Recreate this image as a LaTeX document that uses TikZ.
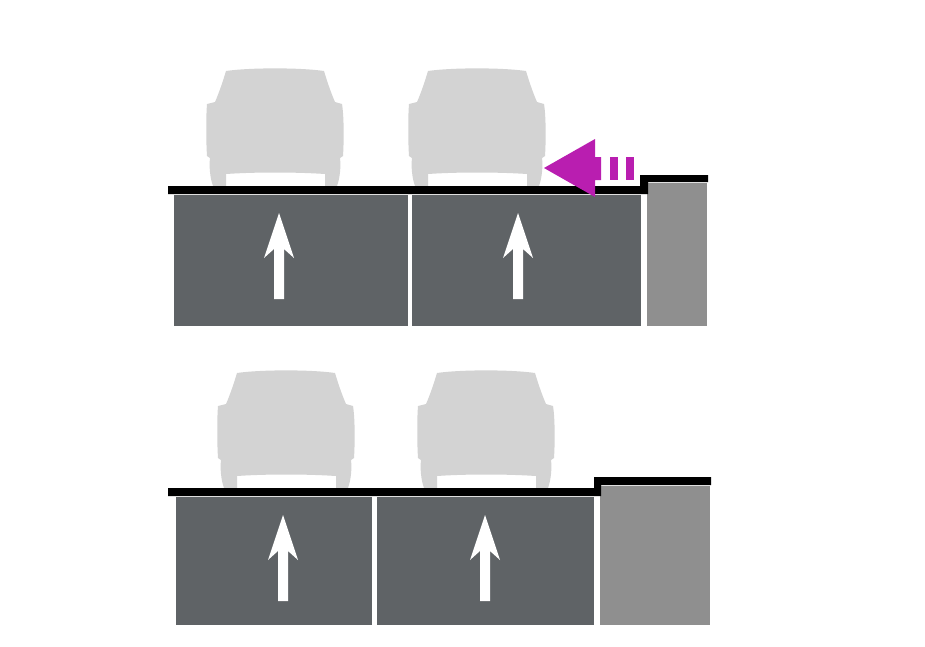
\documentclass[tikz,border=0pt]{standalone}
\tikzset{
  panel/.style={fill=#1,draw=none},
  caricon/.pic={
    \fill[carc] (-49,-115) .. controls (-25,-118.5) and (25,-118.5) .. (49,-115)
      .. controls (52,-105) and (56,-93) .. (60,-84)
      -- (67,-82) .. controls (69,-70) and (69,-45) .. (68,-30)
      -- (65,-28) .. controls (66,-20) and (65,-8) .. (62,0) -- (50,0) -- (50,-12)
      .. controls (20,-14) and (-20,-14) .. (-49,-12) -- (-49,0) -- (-62,0)
      .. controls (-65,-8) and (-66,-20) .. (-65,-28) -- (-68,-30)
      .. controls (-69,-45) and (-69,-70) .. (-68,-82)
      -- (-60,-84) .. controls (-56,-93) and (-52,-105) .. (-49,-115) -- cycle;
  },
  uparrow/.pic={
    \fill[white] (-5,86) -- (5,86) -- (5,36) -- (15,45) -- (0,0) -- (-15,45) -- (-5,36) -- cycle;
  }
}
\definecolor{carc}{HTML}{D3D3D3}
\definecolor{darkp}{HTML}{5F6366}
\definecolor{grayp}{HTML}{8F8F8F}
\definecolor{magc}{HTML}{B91EB0}
\begin{document}
\begin{tikzpicture}[x=1pt,y=-1pt]
\useasboundingbox (0,0) rectangle (925,646);
\fill[white] (0,0) rectangle (925,646);
% top
\pic at (275,186) {caricon};
\pic at (477,186) {caricon};
\fill[panel=darkp] (174,195) rectangle (408,326);
\fill[panel=darkp] (412,195) rectangle (641,326);
\fill[panel=grayp] (647,183) rectangle (707,326);
\fill[black] (168,186) -- (640,186) -- (640,175) -- (708,175) -- (708,182) -- (648,182) -- (648,194) -- (168,194) -- cycle;
\pic at (279,213) {uparrow};
\pic at (518,213) {uparrow};
\fill[magc] (544,168) -- (595,139) -- (595,157) -- (601,157) -- (601,180) -- (595,180) -- (595,197) -- cycle;
\fill[magc] (610,157) rectangle (618,180);
\fill[magc] (626,157) rectangle (634,180);
% bottom
\pic at (286,488) {caricon};
\pic at (486,488) {caricon};
\fill[panel=darkp] (176,497) rectangle (372,625);
\fill[panel=darkp] (377,497) rectangle (594,625);
\fill[panel=grayp] (600,486) rectangle (710,625);
\fill[black] (168,488) -- (594,488) -- (594,477) -- (711,477) -- (711,485) -- (601,485) -- (601,496) -- (168,496) -- cycle;
\pic at (283,515) {uparrow};
\pic at (485,515) {uparrow};
\end{tikzpicture}
\end{document}
